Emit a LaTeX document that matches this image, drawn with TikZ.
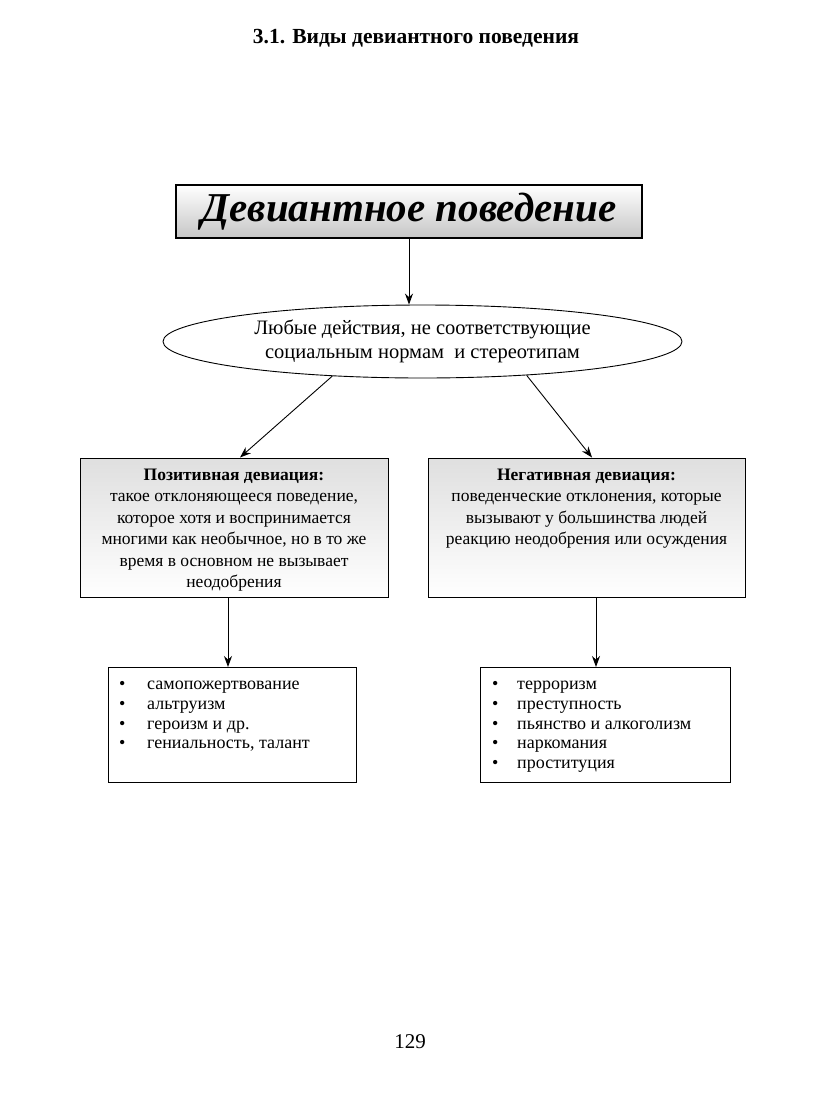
\documentclass[tikz,border=0pt]{standalone}
\usepackage{fontspec}
\setmainfont{Liberation Serif}
\usetikzlibrary{shapes.geometric,arrows.meta}

\begin{document}
\begin{tikzpicture}[x=1pt,y=-1pt,
  frame/.style={draw,line width=1pt,inner sep=0pt},
  txt/.style={inner sep=0pt,font=\fontsize{17.5}{21.5}\selectfont,align=center},
  items/.style={inner sep=0pt,font=\fontsize{18}{19.7}\selectfont,align=left},
  arr/.style={-{Stealth[length=11pt,width=8pt]},line width=0.9pt}]

\useasboundingbox (0,0) rectangle (823,1098);

\node [font=\bfseries\fontsize{21.5}{22}\selectfont] (title) at (416,38) {3.1. Виды девиантного поведения};

% main box
\node [frame,line width=1.5pt,minimum width=466,minimum height=53,top color=white,bottom color=gray!45,
  font=\bfseries\itshape\fontsize{41}{41}\selectfont] (main) at (409,211.5) {Девиантное поведение};

\node [draw,line width=0.9pt,ellipse,minimum width=519,minimum height=73,inner sep=0pt,
  align=center,font=\fontsize{20.5}{24}\selectfont] (any) at (422.5,341.5)
  {Любые действия, не соответствующие\\социальным нормам\ \ и стереотипам};

\draw [arr] (main.south) -- (main.south |- any.north);

% two kinds
\node [frame,minimum width=308,minimum height=139,top color=gray!25,bottom color=white] (pos) at (234,527.5) {};
\node [frame,minimum width=317,minimum height=139,top color=gray!25,bottom color=white] (neg) at (586.5,527.5) {};

\node [txt,anchor=north] (postxt) at (234,468.5) {\textbf{Позитивная девиация:}\\такое отклоняющееся поведение,\\которое хотя и воспринимается\\многими как необычное, но в то же\\время в основном не вызывает\\неодобрения};
\node [txt,anchor=north] (negtxt) at (586.5,468.5) {\textbf{Негативная девиация:}\\поведенческие отклонения, которые\\вызывают у большинства людей\\реакцию неодобрения или осуждения};

\draw [arr] (any.201) -- ([xshift=6pt]pos.north);
\draw [arr] (any.342) -- ([xshift=5.5pt]neg.north);

% examples
\node [frame,minimum width=248,minimum height=115,anchor=north west] (poslist) at (108,667) {};
\node [frame,minimum width=250,minimum height=115,anchor=north west] (neglist) at (480,667) {};

\node [items,anchor=north west] (positems) at (119,681) {\makebox[28pt][l]{\textbullet}самопожертвование\\
  \makebox[28pt][l]{\textbullet}альтруизм\\
  \makebox[28pt][l]{\textbullet}героизм и др.\\
  \makebox[28pt][l]{\textbullet}гениальность, талант};
\node [items,anchor=north west] (negitems) at (492,681) {\makebox[25pt][l]{\textbullet}терроризм\\
  \makebox[25pt][l]{\textbullet}преступность\\
  \makebox[25pt][l]{\textbullet}пьянство и алкоголизм\\
  \makebox[25pt][l]{\textbullet}наркомания\\
  \makebox[25pt][l]{\textbullet}проституция};

\draw [arr] ([xshift=-6pt]pos.south) -- ([xshift=-6pt]pos.south |- poslist.north);
\draw [arr] ([xshift=9.5pt]neg.south) -- ([xshift=9.5pt]neg.south |- neglist.north);

\node [font=\fontsize{21}{22}\selectfont] (page) at (410,1042) {129};

\end{tikzpicture}
\end{document}
